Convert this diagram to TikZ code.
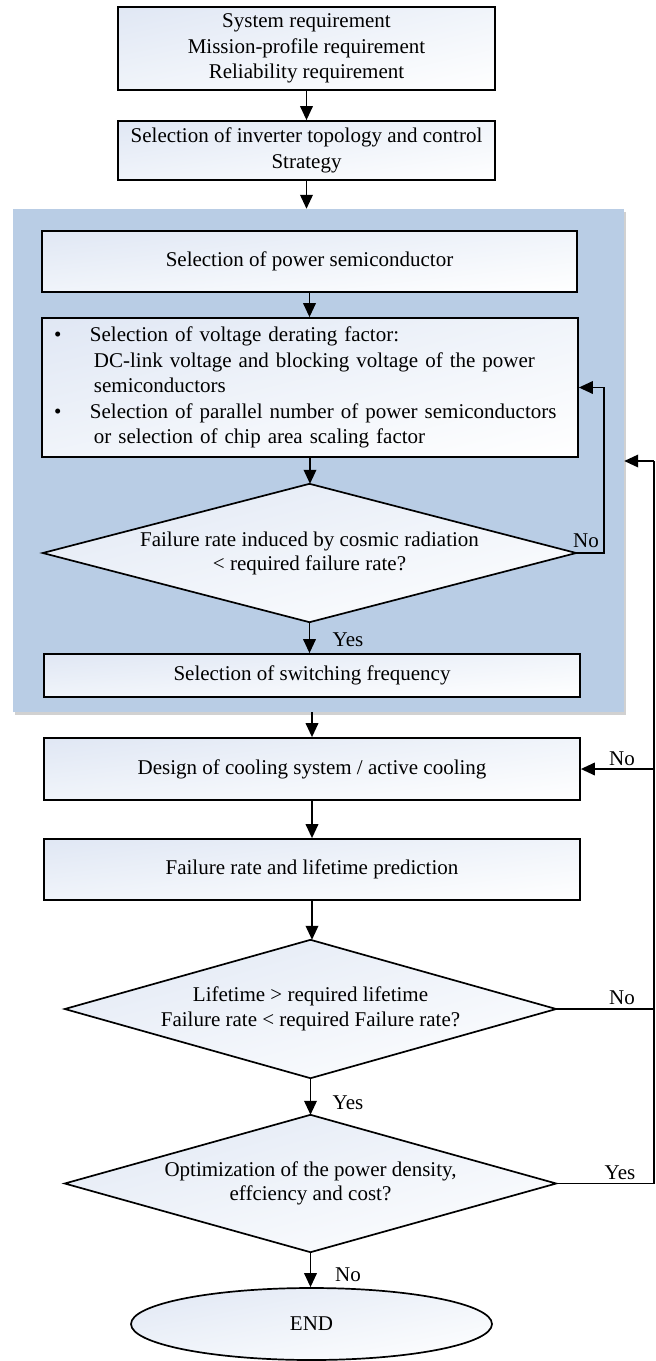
\documentclass[tikz,border=0pt]{standalone}
\usepackage{fontspec}
\setmainfont{Liberation Serif}
\usetikzlibrary{arrows.meta,shadows,shadings,shapes.geometric}
\pgfdeclarelayer{back}
\pgfdeclarelayer{mid}
\pgfsetlayers{back,mid,main}
\definecolor{regionblue}{RGB}{185,205,229}
\definecolor{shadeA}{RGB}{224,231,244}
\definecolor{shadeB}{RGB}{240,244,250}
\begin{document}
\begin{tikzpicture}[x=1pt,y=-1pt,
  font=\fontsize{21}{25.5}\selectfont,
  box/.style={draw=black, line width=1.7pt, shade, upper left=shadeA, upper right=shadeB,
    lower left=shadeB, lower right=white, inner sep=0pt, align=center},
  dtext/.style={inner sep=0pt, align=center},
  diafill/.style={draw=black, line width=1.7pt, shade, upper left=shadeA, upper right=shadeB,
    lower left=shadeB, lower right=white},
  conn/.style={line width=1.9pt},
  arr/.style={conn, -{Triangle[length=14pt,width=12.5pt]}},
  lbl/.style={inner sep=0pt}
]
\useasboundingbox (0,0) rectangle (656,1361);

% blue region
\begin{pgfonlayer}{back}
\node[fill=regionblue, draw=none, minimum width=611pt, minimum height=503pt, inner sep=0pt,
  drop shadow={shadow xshift=2pt, shadow yshift=-3pt, opacity=0.3, fill=black!60}]
  (blue) at (318.5,460.5) {};
\end{pgfonlayer}

\node[box, minimum width=377pt, minimum height=83pt] (b1) at (306.5,48.5)
  {System requirement\\Mission-profile requirement\\Reliability requirement};
\node[box, minimum width=377pt, minimum height=59pt] (b2) at (306.5,150.5)
  {Selection of inverter topology and control\\Strategy};
\node[box, minimum width=535pt, minimum height=61pt] (b3) at (309.5,261.5)
  {Selection of power semiconductor};
\node[box, minimum width=536pt, minimum height=139pt, inner xsep=10pt, text width=516pt, align=left] (b4) at (310,387.5)
  {\makebox[38pt][l]{\hspace*{2pt}\textbullet}Selection of voltage derating factor:\\
   \hspace*{42pt}DC-link voltage and blocking voltage of the power\\
   \hspace*{42pt}semiconductors\\
   \makebox[38pt][l]{\hspace*{2pt}\textbullet}Selection of parallel number of power semiconductors\\
   \hspace*{42pt}or selection of chip area scaling factor};
\node[dtext, minimum width=533pt, minimum height=138pt] (d1) at (309.5,553)
  {Failure rate induced by cosmic radiation\\[-1.5pt]\textless{} required failure rate?};
\node[box, minimum width=536pt, minimum height=43pt] (b5) at (312,675.5)
  {Selection of switching frequency};
\node[box, minimum width=536pt, minimum height=62pt] (b6) at (312,769)
  {Design of cooling system / active cooling};
\node[box, minimum width=536pt, minimum height=61pt] (b7) at (312,869.5)
  {Failure rate and lifetime prediction};
\node[dtext, minimum width=491pt, minimum height=138pt] (d2) at (310.5,1009)
  {Lifetime \textgreater{} required lifetime\\Failure rate \textless{} required Failure rate?};
\node[dtext, minimum width=491pt, minimum height=137pt] (d3) at (310.5,1183.5)
  {Optimization of the power density,\\[-1.5pt]effciency and cost?};
\node[box, ellipse, minimum width=361pt, minimum height=72pt] (end) at (311.5,1324) {END};

\begin{pgfonlayer}{mid}
\foreach \d in {d1,d2,d3}
  \path[diafill] (\d.north) -- (\d.east) -- (\d.south) -- (\d.west) -- cycle;
\end{pgfonlayer}

\coordinate (rtop) at (654,461);

% connectors
\draw[arr] (b1.south) -- (b2.north);
\draw[arr] (b2.south) -- (b2.south |- blue.north);
\draw[arr] (b3.south) -- (b3.south |- b4.north);
\draw[arr] (b4.south) -- (b4.south |- d1.north);
\draw[arr] (d1.east) -- ++(28,0) |- (b4.east);
\draw[arr] (d1.south) -- (d1.south |- b5.north);
\draw[arr] (b6.north |- blue.south) -- (b6.north);
\draw[arr] (b6.south) -- (b7.north);
\draw[arr] (b7.south) -- (b7.south |- d2.north);
\draw[arr] (d2.south) -- (d2.south |- d3.north);
\draw[arr] (d3.south) -- (d3.south |- end.north);
\draw[conn] (d2.east) -- (d2.east -| rtop);
\draw[conn] (d3.east) -- (d3.east -| rtop) -- (rtop);
\draw[arr] (rtop) -- (rtop -| blue.east);
\draw[arr] (b6.east -| rtop) -- (b6.east);

% labels
\node[lbl] (lno1) at (586,541) {No};
\node[lbl] (lyes1) at (348,640) {Yes};
\node[lbl] (lno2) at (622,759) {No};
\node[lbl] (lno3) at (622,998) {No};
\node[lbl] (lyes2) at (348,1103) {Yes};
\node[lbl] (lyes3) at (620,1173) {Yes};
\node[lbl] (lno4) at (348,1275) {No};
\end{tikzpicture}
\end{document}
